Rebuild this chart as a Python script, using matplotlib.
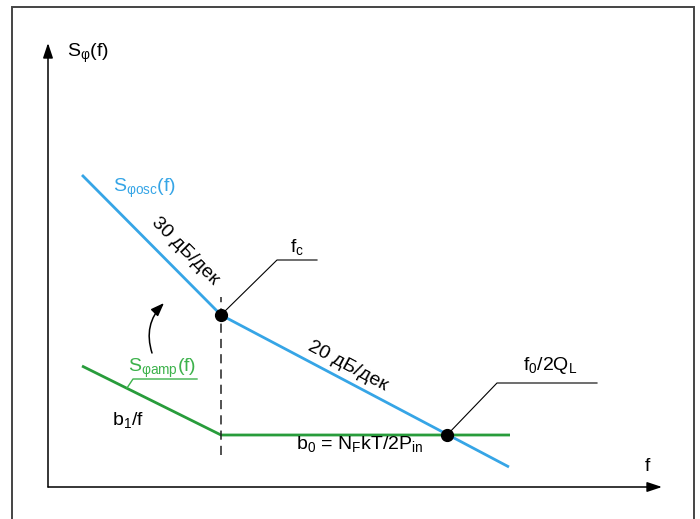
import matplotlib
matplotlib.use("Agg")
import matplotlib.pyplot as plt

plt.rcParams['font.family'] = ['Liberation Sans', 'DejaVu Sans']
plt.rcParams['mathtext.fontset'] = 'custom'
plt.rcParams['mathtext.rm'] = 'Liberation Sans'
plt.rcParams['mathtext.it'] = 'Liberation Sans'
plt.rcParams['mathtext.bf'] = 'Liberation Sans:bold'

BLUE = '#36a5e6'
GREEN = '#289c3b'
GREEN_LIGHT = '#3db24c'

# asymptotes, x ~ log f (decades), y ~ level (arbitrary units)
osc_x = [0.34, 1.73, 4.61]
osc_y = [3.12, 1.72, 0.20]
amp_x = [0.34, 1.73, 4.62]
amp_y = [1.21, 0.52, 0.52]
fc = 1.73
f_res = 3.99
b0_level = 0.52

fig = plt.figure(figsize=(7.0, 5.19), dpi=100)
ax = fig.add_axes([0, 0, 1, 1])
ax.set_xlim(-0.48, 6.52)
ax.set_ylim(-0.32, 4.87)
ax.axis('off')

# outer frame (open at the bottom)
ax.plot([-0.36, -0.36, 6.46, 6.46], [-0.5, 4.80, 4.80, -0.5], color='#444444', lw=1.4,
        solid_joinstyle='miter', clip_on=False)

# axes arrows
arr = dict(arrowstyle='-|>,head_length=0.9,head_width=0.3', color='black', lw=1.1,
           shrinkA=0, shrinkB=0)
ax.annotate('', xy=(6.14, 0), xytext=(0, 0), arrowprops=arr)
ax.annotate('', xy=(0, 4.44), xytext=(0, 0), arrowprops=arr)

# curves
ax.plot(osc_x, osc_y, color=BLUE, lw=2.0, solid_capstyle='butt')
ax.plot(amp_x, amp_y, color=GREEN, lw=2.0, solid_capstyle='butt')

# corner frequency marker
ax.plot([fc, fc], [0.32, 1.90], color='#222222', lw=1.1, dashes=(6, 4))

# leaders
ax.plot([fc, 2.29, 2.69], [1.72, 2.27, 2.27], color='black', lw=0.8)
ax.plot([f_res, 4.49, 5.49], [b0_level, 1.04, 1.04], color='black', lw=0.8)
ax.plot([0.79, 0.85, 1.49], [0.99, 1.08, 1.08], color=GREEN_LIGHT, lw=1.0)

ax.plot([fc, f_res], [1.72, b0_level], 'o', color='black', ms=8.5, zorder=5)

# curved arrow
ax.annotate('', xy=(1.16, 1.84), xytext=(1.04, 1.34),
            arrowprops=dict(arrowstyle='-|>,head_length=0.8,head_width=0.3', color='black',
                            lw=1.1, connectionstyle='arc3,rad=-0.3', shrinkA=0, shrinkB=0))

fs = 14
ax.text(0.19, 4.30, r'S$_{φ}$(f)', fontsize=fs, va='baseline')
ax.text(0.65, 2.95, r'S$_{φosc}$(f)', fontsize=fs, va='baseline', color=BLUE)
ax.text(1.37, 2.36, '30 дБ/дек', fontsize=fs, rotation=-45, ha='center', va='center',
        rotation_mode='anchor')
ax.text(2.42, 2.35, r'f$_c$', fontsize=fs, va='baseline')
ax.text(3.00, 1.21, '20 дБ/дек', fontsize=fs, rotation=-28, ha='center', va='center',
        rotation_mode='anchor')
ax.text(4.75, 1.17, r'f$_0$/2Q$_L$', fontsize=fs, va='baseline')
ax.text(0.80, 1.15, r'S$_{φamp}$(f)', fontsize=fs, va='baseline', color=GREEN_LIGHT)
ax.text(0.64, 0.62, r'b$_1$/f', fontsize=fs, va='baseline')
ax.text(2.48, 0.38, r'b$_0$ = N$_F$kT/2P$_{in}$', fontsize=fs, va='baseline')
ax.text(5.97, 0.16, 'f', fontsize=fs, va='baseline')

fig.savefig('out.png', dpi=100)
